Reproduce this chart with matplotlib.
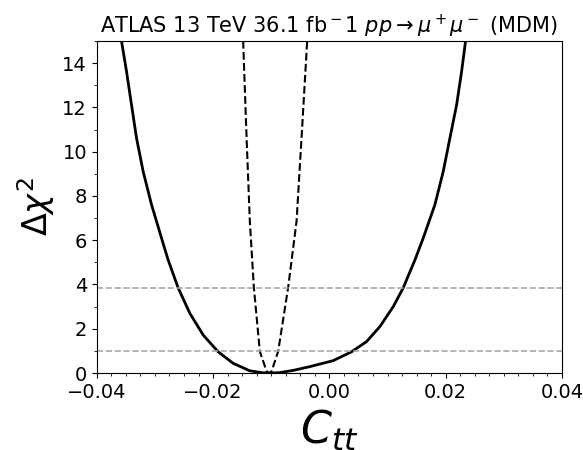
import matplotlib
matplotlib.use('Agg')
import matplotlib.pyplot as plt
from matplotlib.ticker import MultipleLocator

# full chi^2 profile (solid)
c_full = [-0.03575, -0.03489, -0.03403, -0.03317, -0.03203, -0.03059, -0.02887,
          -0.02773, -0.02601, -0.02400, -0.02171, -0.01913, -0.01655, -0.01368,
          -0.01139, -0.01000, -0.00852, -0.00623, -0.00335, 0.00065, 0.00381,
          0.00639, 0.00869, 0.01098, 0.01270, 0.01471, 0.01614, 0.01815,
          0.01958, 0.02073, 0.02188, 0.02274, 0.02342]
chi_full = [15.0, 13.63, 12.12, 10.62, 9.11, 7.61, 6.10,
            5.11, 3.85, 2.70, 1.72, 0.96, 0.44, 0.10,
            0.01, 0.0, 0.02, 0.12, 0.29, 0.56, 0.96,
            1.42, 2.10, 3.00, 3.85, 5.11, 6.10, 7.61,
            9.11, 10.62, 12.12, 13.63, 15.0]

# linear-only profile (dashed)
c_lin = [-0.01483, -0.01424, -0.01368, -0.01299, -0.01196, -0.01080, -0.01036,
         -0.00994, -0.00881, -0.00709, -0.00565, -0.00479, -0.00382]
chi_lin = [15.0, 10.62, 6.85, 3.87, 0.98, 0.08, 0.0,
           0.08, 0.98, 3.87, 6.85, 10.62, 15.0]

cl_levels = [1.0, 3.84]

fig, ax = plt.subplots(figsize=(5.83, 4.5), dpi=100)
fig.subplots_adjust(left=0.166, right=0.964, top=0.909, bottom=0.171)

ax.plot(c_full, chi_full, color='black', lw=2)
ax.plot(c_lin, chi_lin, color='black', lw=1.5, ls='--')
for lvl in cl_levels:
    ax.axhline(lvl, color='darkgray', lw=1.2, ls='--')

ax.set_xlim(-0.04, 0.04)
ax.set_ylim(0, 15)
ax.xaxis.set_major_locator(MultipleLocator(0.02))
ax.xaxis.set_minor_locator(MultipleLocator(0.0025))
ax.yaxis.set_major_locator(MultipleLocator(2))
ax.yaxis.set_minor_locator(MultipleLocator(1))
ax.tick_params(labelsize=14)

ax.set_xlabel(r'$C_{tt}$', fontsize=32)
ax.set_ylabel(r'$\Delta\chi^2$', fontsize=24)
ax.set_title(r'ATLAS 13 TeV 36.1 fb$^-1$ $pp \to \mu^+\mu^-$ (MDM)', fontsize=15)

fig.savefig('out.png')
